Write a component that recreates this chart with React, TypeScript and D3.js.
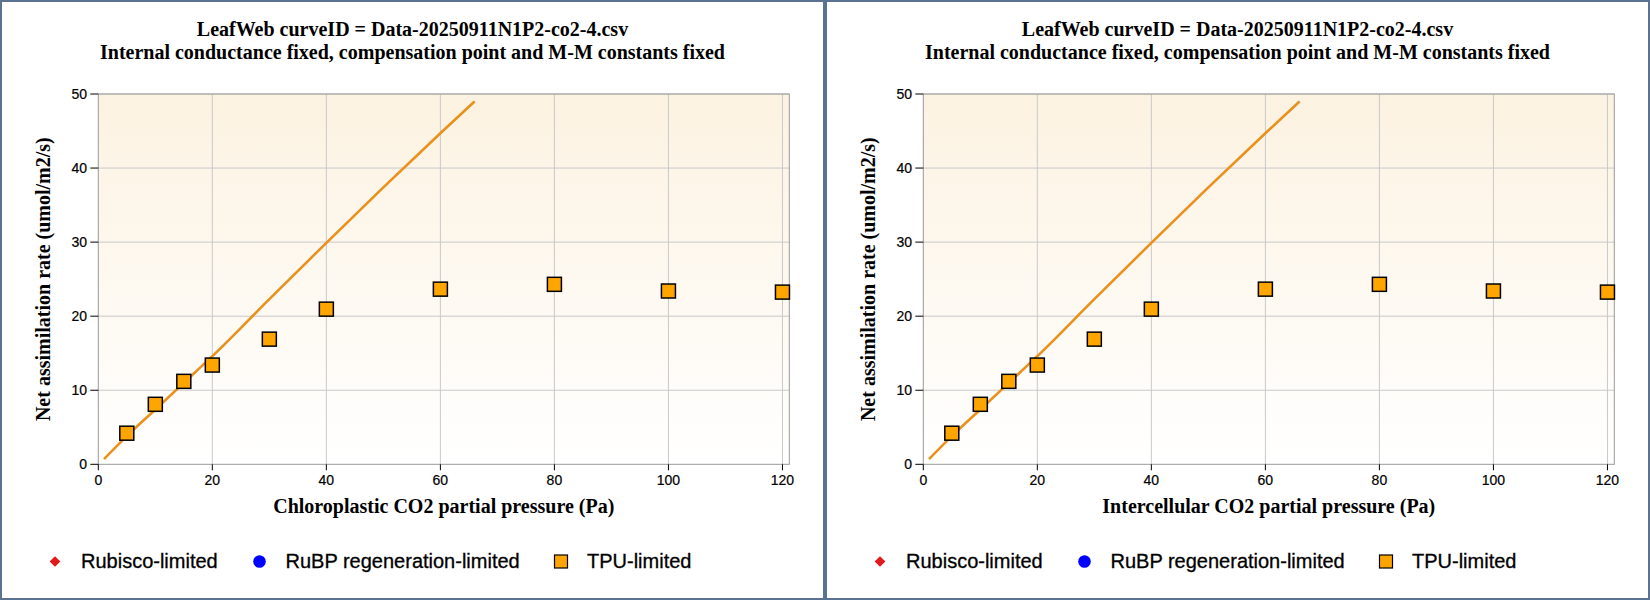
import { useEffect, useRef } from "react"
import * as d3 from "d3"

// values
const xTicks = [0, 20, 40, 60, 80, 100, 120]
const yTicks = [0, 10, 20, 30, 40, 50]
const co2Points = [5, 10, 15, 20, 30, 40, 60, 80, 100, 120]
const tpuValues = [4.2, 8.1, 11.2, 13.4, 16.9, 20.95, 23.65, 24.3, 23.4, 23.25]
const lineCo2 = [1, 5, 10, 15, 20, 30, 40, 50, 60, 66]
const lineValues = [0.7, 3.8, 7.4, 11.0, 14.6, 22.3, 29.9, 37.4, 44.7, 49.0]
const legendLabels = ["Rubisco-limited", "RuBP regeneration-limited", "TPU-limited"]
const titleLines = [
  "LeafWeb curveID = Data-20250911N1P2-co2-4.csv",
  "Internal conductance fixed, compensation point and M-M constants fixed"
]
const xLabels = [
  "Chloroplastic CO2 partial pressure (Pa)",
  "Intercellular CO2 partial pressure (Pa)"
]
const yLabel = "Net assimilation rate (umol/m2/s)"

const W = 1650
const H = 600
const panelW = 825
const border = "#5c7292"
const serif = "'Liberation Serif', 'Times New Roman', serif"
const sans = "'Liberation Sans', Arial, sans-serif"

export default function App() {
  const ref = useRef<SVGSVGElement | null>(null)

  useEffect(() => {
    const svg = d3.select(ref.current)
    svg.selectAll("*").remove()

    const x = d3.scaleLinear().domain([0, 121.2]).range([98.3, 789.3])
    const y = d3.scaleLinear().domain([0, 50]).range([464.3, 94])

    const defs = svg.append("defs")

    xLabels.forEach((xLabel, i) => {
      const g = svg.append("g").attr("transform", `translate(${i * panelW},0)`)

      g.append("rect")
        .attr("x", 1).attr("y", 1)
        .attr("width", panelW - 2).attr("height", H - 2)
        .attr("fill", "#fff")
        .attr("stroke", border)
        .attr("stroke-width", 2)

      const gradId = `bg${i}`
      const grad = defs.append("linearGradient")
        .attr("id", gradId)
        .attr("x1", 0).attr("y1", 0).attr("x2", 0).attr("y2", 1)
      grad.append("stop").attr("offset", "0%").attr("stop-color", "#fcf2e1")
      grad.append("stop").attr("offset", "100%").attr("stop-color", "#ffffff")

      const [x0, x1] = x.range()
      const [y0, y1] = y.range()

      g.append("rect")
        .attr("x", x0).attr("y", y1)
        .attr("width", x1 - x0).attr("height", y0 - y1)
        .attr("fill", `url(#${gradId})`)

      // grid
      g.selectAll(".vg")
        .data(xTicks.slice(1))
        .enter()
        .append("line")
        .attr("x1", d => x(d)).attr("x2", d => x(d))
        .attr("y1", y1).attr("y2", y0)
        .attr("stroke", "#c9c9c9")
      g.selectAll(".hg")
        .data(yTicks.slice(1))
        .enter()
        .append("line")
        .attr("x1", x0).attr("x2", x1)
        .attr("y1", d => y(d)).attr("y2", d => y(d))
        .attr("stroke", "#c9c9c9")

      // frame
      g.append("rect")
        .attr("x", x0).attr("y", y1)
        .attr("width", x1 - x0).attr("height", y0 - y1)
        .attr("fill", "none")
        .attr("stroke", "#999")

      // ticks
      g.selectAll(".xt")
        .data(xTicks)
        .enter()
        .append("line")
        .attr("x1", d => x(d)).attr("x2", d => x(d))
        .attr("y1", y0).attr("y2", y0 + 6)
        .attr("stroke", "#000")
      g.selectAll(".xl")
        .data(xTicks)
        .enter()
        .append("text")
        .text(d => d)
        .attr("x", d => x(d))
        .attr("y", 485)
        .attr("text-anchor", "middle")
        .attr("font-family", sans)
        .attr("font-size", 14)
        .attr("fill", "#000")
        .attr("stroke", "#000")
        .attr("stroke-width", 0.2)

      g.selectAll(".yt")
        .data(yTicks)
        .enter()
        .append("line")
        .attr("x1", x0 - 8).attr("x2", x0)
        .attr("y1", d => y(d)).attr("y2", d => y(d))
        .attr("stroke", "#000")
      g.selectAll(".yl")
        .data(yTicks)
        .enter()
        .append("text")
        .text(d => d)
        .attr("x", 87)
        .attr("y", d => y(d) + 5)
        .attr("text-anchor", "end")
        .attr("font-family", sans)
        .attr("font-size", 14)
        .attr("fill", "#000")
        .attr("stroke", "#000")
        .attr("stroke-width", 0.2)

      // rubisco-limited curve
      const line = d3.line<number>()
        .x(d => x(d))
        .y((_, j) => y(lineValues[j]))
        .curve(d3.curveMonotoneX)
      g.append("path")
        .attr("d", line(lineCo2))
        .attr("fill", "none")
        .attr("stroke", "#ea901c")
        .attr("stroke-width", 2.6)

      // TPU points
      const s = 14
      g.selectAll(".pt")
        .data(co2Points)
        .enter()
        .append("rect")
        .attr("x", d => x(d) - s / 2)
        .attr("y", (_, j) => y(tpuValues[j]) - s / 2)
        .attr("width", s).attr("height", s)
        .attr("fill", "#ffa500")
        .attr("stroke", "#000")
        .attr("stroke-width", 1.5)

      // titles
      titleLines.forEach((t, j) => {
        g.append("text")
          .text(t)
          .attr("x", panelW / 2)
          .attr("y", 36 + j * 23)
          .attr("text-anchor", "middle")
          .attr("font-family", serif)
          .attr("font-weight", "bold")
          .attr("font-size", 20)
          .attr("fill", "#000")
      })

      g.append("text")
        .text(xLabel)
        .attr("x", (x0 + x1) / 2)
        .attr("y", 512.5)
        .attr("text-anchor", "middle")
        .attr("font-family", serif)
        .attr("font-weight", "bold")
        .attr("font-size", 20)

      g.append("text")
        .text(yLabel)
        .attr("transform", `translate(50,${(y0 + y1) / 2}) rotate(-90)`)
        .attr("text-anchor", "middle")
        .attr("font-family", serif)
        .attr("font-weight", "bold")
        .attr("font-size", 20)

      // legend
      const legendX = [55, 259.5, 561]
      const ly = 561.5
      const leg = g.append("g")
      leg.append("rect")
        .attr("x", -3.8).attr("y", -3.8)
        .attr("width", 7.6).attr("height", 7.6)
        .attr("transform", `translate(${legendX[0]},${ly}) rotate(45)`)
        .attr("fill", "#e31a1c")
      leg.append("circle")
        .attr("cx", legendX[1]).attr("cy", ly).attr("r", 6.3)
        .attr("fill", "#0000ff")
      leg.append("rect")
        .attr("x", legendX[2] - 6.5).attr("y", ly - 6.5)
        .attr("width", 13).attr("height", 13)
        .attr("fill", "#ffa500")
        .attr("stroke", "#000")
        .attr("stroke-width", 1.2)
      leg.selectAll(".lt")
        .data(legendLabels)
        .enter()
        .append("text")
        .text(d => d)
        .attr("x", (_, j) => legendX[j] + 26)
        .attr("y", 568)
        .attr("font-family", sans)
        .attr("font-size", 20)
        .attr("fill", "#000")
        .attr("stroke", "#000")
        .attr("stroke-width", 0.3)
    })
  }, [])

  return (
    <div style={{ position: "absolute", left: 0, top: 0, width: W, height: H }}>
      <svg ref={ref} width={W} height={H} style={{ display: "block" }} />
    </div>
  )
}
